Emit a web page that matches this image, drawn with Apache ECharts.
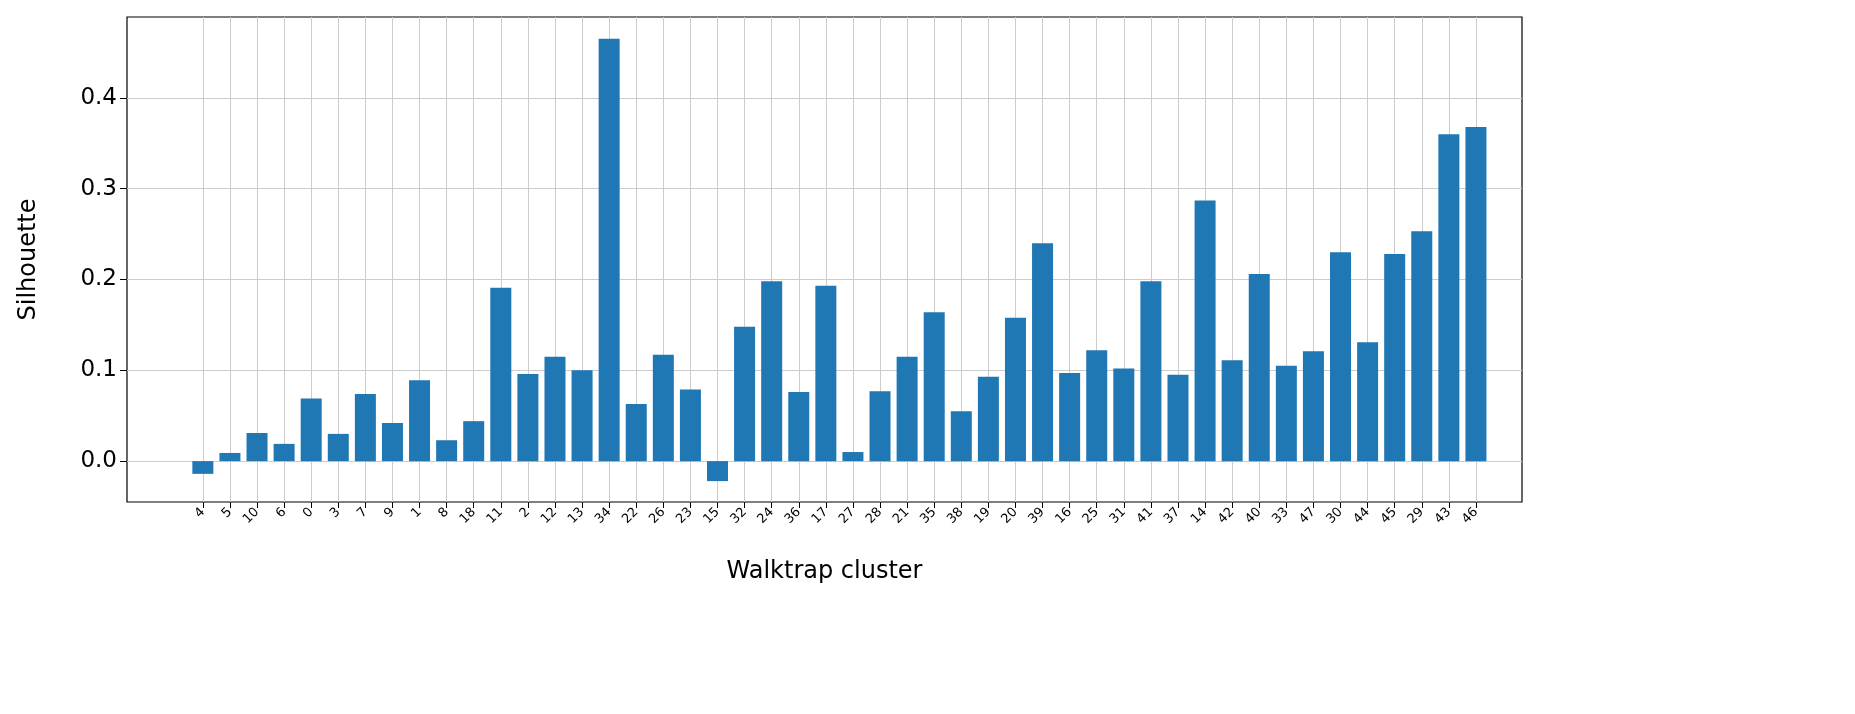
<!DOCTYPE html>
<html style="height: 100%">
<head>
<meta charset="utf-8">
<script src="https://cdn.jsdelivr.net/npm/echarts@6/dist/echarts.min.js"></script>
</head>
<body style="height: 100%; margin: 0; background: #fff">
<div id="container" style="width: 1855px; height: 714px"></div>
<script>
// cluster ids in plotted order
let clusters = ['4','5','10','6','0','3','7','9','1','8','18','11','2','12','13','34','22','26','23','15',
    '32','24','36','17','27','28','21','35','38','19','20','39','16','25','31','41','37','14','42','40',
    '33','47','30','44','45','29','43','46'];
// silhouette per cluster
let silhouette = [-0.014,0.009,0.031,0.019,0.069,0.030,0.074,0.042,0.089,0.023,0.044,0.191,0.096,0.115,0.100,0.465,0.063,0.117,0.079,-0.022,
    0.148,0.198,0.076,0.193,0.010,0.077,0.115,0.164,0.055,0.093,0.158,0.240,0.097,0.122,0.102,0.198,0.095,0.287,0.111,0.206,
    0.105,0.121,0.230,0.131,0.228,0.253,0.360,0.368];
let yTicks = [0, 0.1, 0.2, 0.3, 0.4];

let positions = clusters.map(function (c, i) { return i; });
let chart = echarts.init(document.getElementById('container'));
chart.setOption({
    animation: false,
    grid: {left: 127, right: 1855 - 1522, top: 17, bottom: 714 - 502, show: true,
           borderColor: '#000', borderWidth: 1.2, backgroundColor: 'transparent'},
    xAxis: {
        type: 'value', min: -2.8, max: 48.7, position: 'bottom',
        name: 'Walktrap cluster', nameLocation: 'middle', nameGap: 58,
        nameTextStyle: {fontSize: 24, color: '#000', fontFamily: 'DejaVu Sans'},
        axisLine: {show: false, onZero: false},
        axisTick: {show: true, customValues: positions, length: 6, lineStyle: {color: '#000'}},
        axisLabel: {customValues: positions, rotate: 45, fontSize: 13, color: '#000', fontFamily: 'DejaVu Sans', margin: 8,
                    formatter: function (v) { return clusters[Math.round(v)]; }},
        splitLine: {show: true, lineStyle: {color: '#cccccc', width: 1}}
    },
    yAxis: {
        type: 'value', min: -0.045, max: 0.489, position: 'left',
        name: 'Silhouette', nameLocation: 'middle', nameGap: 86,
        nameTextStyle: {fontSize: 24, color: '#000', fontFamily: 'DejaVu Sans'},
        axisLine: {show: false, onZero: false},
        axisTick: {show: true, customValues: yTicks, length: 7, lineStyle: {color: '#000'}},
        axisLabel: {customValues: yTicks, fontSize: 23, color: '#000', fontFamily: 'DejaVu Sans', margin: 10,
                    formatter: function (v) { return v.toFixed(1); }},
        splitLine: {show: true, lineStyle: {color: '#cccccc', width: 1}}
    },
    series: [{
        type: 'bar',
        data: silhouette.map(function (v, i) { return [i, v]; }),
        barWidth: 21,
        itemStyle: {color: '#1f77b4'}
    }]
});
</script>
</body>
</html>
